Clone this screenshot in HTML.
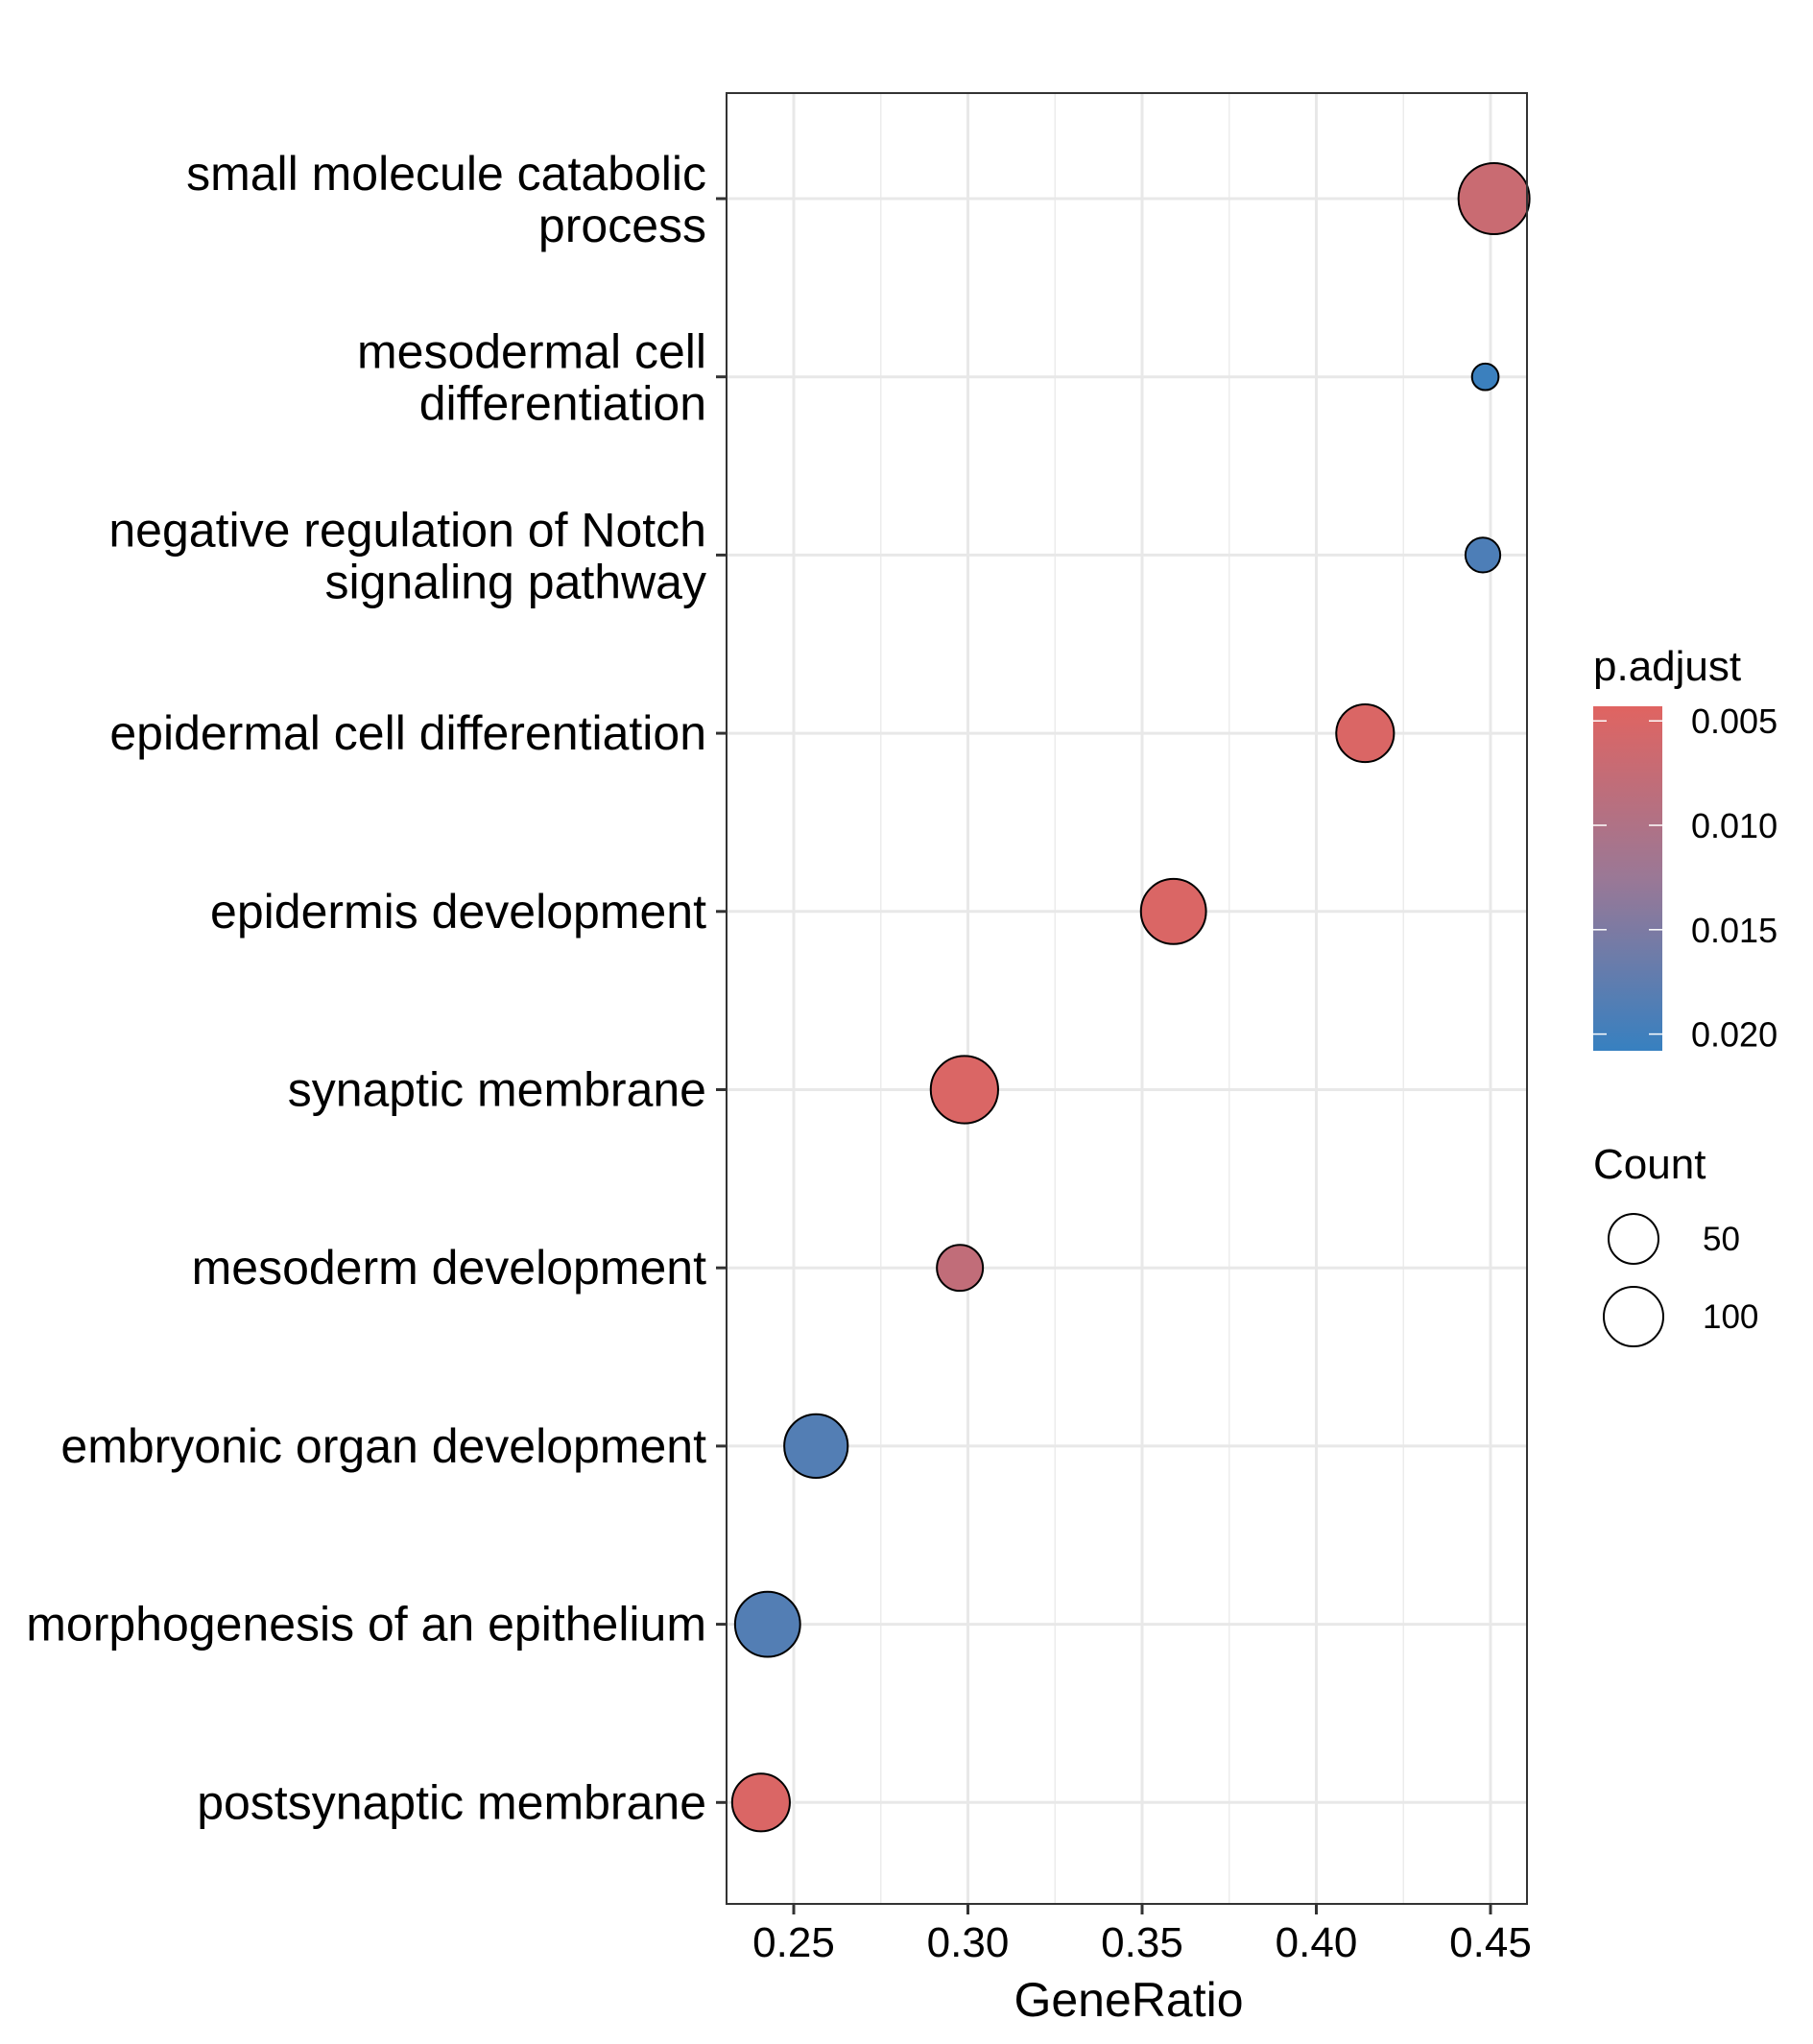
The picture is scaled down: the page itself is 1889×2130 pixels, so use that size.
<!DOCTYPE html>
<html><head><meta charset="utf-8"><style>
body{margin:0;background:#fff}
svg text{font-family:"Liberation Sans",Arial,sans-serif}
</style></head><body>
<svg id="chart" width="1889" height="2125" viewBox="0 0 1889 2125" xmlns="http://www.w3.org/2000/svg">
<defs><linearGradient id="grad" x1="0" y1="0" x2="0" y2="1">
<stop offset="0" stop-color="#e06461"/><stop offset="0.5" stop-color="#9a7896"/><stop offset="1" stop-color="#3780c0"/></linearGradient></defs>
<g id="grid"></g><g id="pts"></g><g id="axes"></g>
</svg>
<script>
const categories=[["small molecule catabolic","process"],["mesodermal cell","differentiation"],["negative regulation of Notch","signaling pathway"],["epidermal cell differentiation"],["epidermis development"],["synaptic membrane"],["mesoderm development"],["embryonic organ development"],["morphogenesis of an epithelium"],["postsynaptic membrane"]];
const geneRatio=[0.451,0.4485,0.4478,0.414,0.359,0.299,0.2977,0.2564,0.2425,0.2406];
const counts=[100,14,24,66,84,90,42,80,84,66];
const padj=[0.007,0.0205,0.019,0.005,0.005,0.005,0.008,0.0185,0.0185,0.005];
const xTicks=[0.25,0.30,0.35,0.40,0.45];
const xTickLabels=["0.25","0.30","0.35","0.40","0.45"];
const pTicks=[0.005,0.010,0.015,0.020];
const pTickLabels=["0.005","0.010","0.015","0.020"];
const NS="http://www.w3.org/2000/svg";
const L=757,R=1591,T=97,B=1984;
const x=v=>827+(v-0.25)/0.05*181.5;
const y=i=>207+i*185.7;
const rad=c=>3.7*Math.sqrt(c);
const pMin=0.0043,pMax=0.0208,barT=736,barB=1095;
const py=p=>barT+(p-pMin)/(pMax-pMin)*(barB-barT);
function col(p){const t=Math.max(0,Math.min(1,(p-pMin)/(pMax-pMin)));const a=[224,100,97],m=[154,120,150],b=[55,128,192];let c;
if(t<0.5){c=a.map((v,k)=>v+(m[k]-v)*t*2)}else{c=m.map((v,k)=>v+(b[k]-v)*(t-0.5)*2)}return `rgb(${c.map(Math.round).join(',')})`;}
function mk(tag,at,parent,txt){const e=document.createElementNS(NS,tag);for(const k in at)e.setAttribute(k,at[k]);if(txt!==undefined)e.textContent=txt;parent.appendChild(e);return e;}
const grid=document.getElementById('grid'),pts=document.getElementById('pts'),axes=document.getElementById('axes');
for(let i=0;i<xTicks.length-1;i++){const e=mk('line',{x1:x(xTicks[i]+0.025),x2:x(xTicks[i]+0.025),y1:T,y2:B,stroke:'#ececec','stroke-width':1.5},grid);

}
xTicks.forEach((v,i)=>{const e=mk('line',{x1:x(v),x2:x(v),y1:T,y2:B,stroke:'#e8e8e8','stroke-width':3},grid);


const t=mk('line',{x1:x(v),x2:x(v),y1:B,y2:B+11,stroke:'#333','stroke-width':3},axes);


const l=mk('text',{x:x(v),y:B+55,'font-size':44,'text-anchor':'middle',fill:'#000'},axes,xTickLabels[i]);

});
categories.forEach((c,i)=>{const e=mk('line',{x1:L,x2:R,y1:y(i),y2:y(i),stroke:'#e8e8e8','stroke-width':3},grid);


const t=mk('line',{x1:L-11,x2:L,y1:y(i),y2:y(i),stroke:'#333','stroke-width':3},axes);


c.forEach((s,j)=>{const off=c.length===1?17:(j===0?-9:45);
const l=mk('text',{x:736,y:y(i)+off,'font-size':50,'text-anchor':'end',fill:'#000'},axes,s);

});
const p=mk('circle',{cx:x(geneRatio[i]),cy:y(i),r:rad(counts[i]),fill:col(padj[i]),stroke:'#000','stroke-width':2},pts);

});
const fr=mk('rect',{x:L,y:T,width:R-L,height:B-T,fill:'none',stroke:'#333','stroke-width':2},axes);


const xt=mk('text',{x:1176,y:2101,'font-size':50,'text-anchor':'middle'},axes,'GeneRatio');


const lt=mk('text',{x:1660,y:709,'font-size':44},axes,'p.adjust');


const bar=mk('rect',{x:1660,y:barT,width:72,height:barB-barT,fill:'url(#grad)'},axes);


pTicks.forEach((p,i)=>{mk('line',{x1:1660,x2:1674,y1:py(p),y2:py(p),stroke:'#fff','stroke-width':1.5},axes);mk('line',{x1:1718,x2:1732,y1:py(p),y2:py(p),stroke:'#fff','stroke-width':1.5},axes);
const l=mk('text',{x:1762,y:py(p)+13,'font-size':36},axes,pTickLabels[i]);

});
const ct=mk('text',{x:1660,y:1228,'font-size':44},axes,'Count');


[[1291,26,'50'],[1372,31,'100']].forEach(a=>{const c=mk('circle',{cx:1702,cy:a[0],r:a[1],fill:'none',stroke:'#000','stroke-width':2},axes);


const l=mk('text',{x:1774,y:a[0]+12,'font-size':35},axes,a[2]);

});
</script>
</body></html>
